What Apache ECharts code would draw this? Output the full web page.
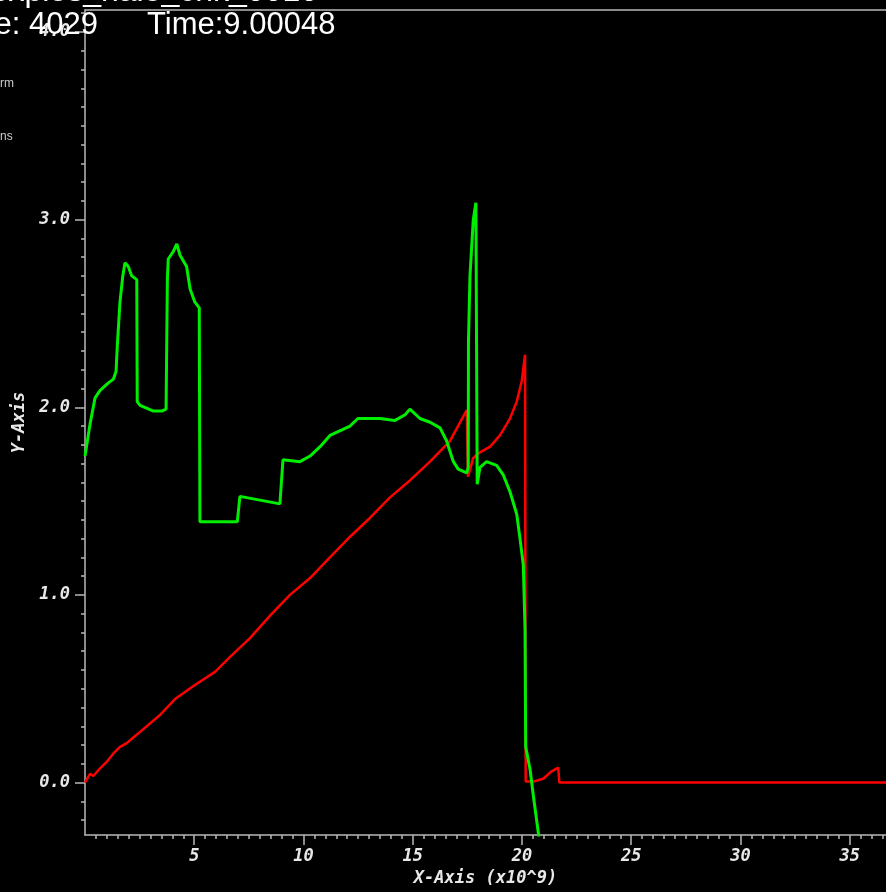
<!DOCTYPE html>
<html>
<head>
<meta charset="utf-8">
<script src="https://cdn.jsdelivr.net/npm/echarts@6/dist/echarts.min.js"></script>
<style>
html,body{margin:0;padding:0;background:#000;}
#chart{width:886px;height:892px;}
</style>
</head>
<body>
<div id="chart"></div>
<script>
// ---- data ----
const redX = [0, 0.23, 0.38, 0.69, 0.99, 1.30, 1.60, 1.91, 2.21, 2.52, 3.43, 4.12, 5.03, 5.95, 6.64, 7.55, 8.47, 9.38, 10.30, 11.21, 12.13, 13.04, 13.96, 14.87, 15.79, 16.70, 17.47, 17.53, 17.77, 18.08, 18.54, 18.99, 19.45, 19.76, 19.99, 20.14, 20.17, 20.52, 20.97, 21.36, 21.66, 21.71, 37.0];
const redY = [0, 0.046, 0.035, 0.076, 0.11, 0.155, 0.19, 0.21, 0.24, 0.27, 0.36, 0.445, 0.52, 0.59, 0.67, 0.77, 0.89, 1.0, 1.09, 1.20, 1.31, 1.41, 1.52, 1.61, 1.71, 1.82, 1.985, 1.63, 1.73, 1.76, 1.79, 1.85, 1.94, 2.03, 2.14, 2.28, 0.005, 0.005, 0.02, 0.06, 0.08, 0, 0];

const greenX = [0, 0.05, 0.23, 0.46, 0.69, 1.07, 1.30, 1.42, 1.48, 1.60, 1.73, 1.83, 1.98, 2.14, 2.37, 2.39, 2.52, 3.13, 3.51, 3.71, 3.77, 3.81, 4.04, 4.20, 4.35, 4.65, 4.81, 5.03, 5.23, 5.26, 6.97, 7.09, 8.01, 8.92, 9.06, 9.84, 10.30, 10.76, 11.21, 12.13, 12.49, 13.50, 14.19, 14.65, 14.87, 15.33, 15.79, 16.25, 16.55, 16.86, 17.08, 17.47, 17.54, 17.55, 17.62, 17.77, 17.89, 17.95, 18.08, 18.38, 18.84, 19.14, 19.45, 19.76, 19.91, 20.06, 20.14, 20.17, 20.37, 20.52, 20.75, 20.82];
const greenY = [1.74, 1.74, 1.91, 2.05, 2.09, 2.13, 2.15, 2.19, 2.33, 2.56, 2.70, 2.77, 2.75, 2.70, 2.68, 2.03, 2.01, 1.98, 1.98, 1.99, 2.68, 2.79, 2.83, 2.87, 2.81, 2.75, 2.63, 2.56, 2.53, 1.39, 1.39, 1.525, 1.505, 1.485, 1.72, 1.71, 1.74, 1.79, 1.85, 1.90, 1.94, 1.94, 1.93, 1.96, 1.99, 1.94, 1.92, 1.89, 1.82, 1.71, 1.67, 1.65, 1.68, 2.35, 2.70, 3.00, 3.09, 1.59, 1.68, 1.71, 1.69, 1.64, 1.55, 1.43, 1.30, 1.16, 0.81, 0.19, 0.07, -0.07, -0.27, -0.34];

// ---- ticks / labels ----
const xMajorTicks = [5, 10, 15, 20, 25, 30, 35];
const yMajorTicks = [0, 1, 2, 3, 4];
const xMinorTicks = [];
for (let i = 1; i <= 73; i++) xMinorTicks.push(i * 0.5);
const yMinorTicks = [];
for (let i = -2; i <= 41; i++) yMinorTicks.push(i / 10);

const X_MIN = 0, X_MAX = 36.66, Y_MIN = -0.28, Y_MAX = 4.117;

const zip = (xs, ys) => xs.map((x, i) => [x, ys[i]]);

const axisColor = '#b8b8b8';
const labelFont = { color: '#e8e8e8', fontFamily: 'DejaVu Sans Mono', fontStyle: 'italic', fontWeight: 'bold', fontSize: 17 };

const chart = echarts.init(document.getElementById('chart'), null, { renderer: 'canvas' });
chart.setOption({
  animation: false,
  backgroundColor: '#000',
  grid: { left: 85, top: 10, right: 0, bottom: 53, containLabel: false },
  xAxis: [
    {
      type: 'value', min: X_MIN, max: X_MAX, position: 'bottom',
      axisLine: { show: true, onZero: false, lineStyle: { color: axisColor, width: 1.5 } },
      axisTick: { show: true, customValues: xMajorTicks, length: 10, lineStyle: { color: axisColor, width: 1.5 } },
      axisLabel: Object.assign({ customValues: xMajorTicks, margin: 13, formatter: v => String(v) }, labelFont),
      splitLine: { show: false },
      name: 'X-Axis (x10^9)', nameLocation: 'middle', nameGap: 34,
      nameTextStyle: labelFont
    },
    {
      type: 'value', min: X_MIN, max: X_MAX, position: 'bottom',
      axisLine: { show: false, onZero: false },
      axisTick: { show: true, customValues: xMinorTicks, length: 4, lineStyle: { color: axisColor, width: 1.5 } },
      axisLabel: { show: false },
      splitLine: { show: false }
    },
    {
      type: 'value', min: X_MIN, max: X_MAX, position: 'top',
      axisLine: { show: true, onZero: false, lineStyle: { color: axisColor, width: 1.5 } },
      axisTick: { show: false }, axisLabel: { show: false }, splitLine: { show: false }
    }
  ],
  yAxis: [
    {
      type: 'value', min: Y_MIN, max: Y_MAX, position: 'left',
      axisLine: { show: true, onZero: false, lineStyle: { color: axisColor, width: 1.5 } },
      axisTick: { show: true, customValues: yMajorTicks, length: 10, lineStyle: { color: axisColor, width: 1.5 } },
      axisLabel: Object.assign({ customValues: yMajorTicks, margin: 15, formatter: v => v.toFixed(1) }, labelFont),
      splitLine: { show: false },
      name: 'Y-Axis', nameLocation: 'middle', nameGap: 55, nameRotate: 90,
      nameTextStyle: labelFont
    },
    {
      type: 'value', min: Y_MIN, max: Y_MAX, position: 'left',
      axisLine: { show: false, onZero: false },
      axisTick: { show: true, customValues: yMinorTicks, length: 4, lineStyle: { color: axisColor, width: 1.5 } },
      axisLabel: { show: false },
      splitLine: { show: false }
    }
  ],
  series: [
    {
      name: 'red', type: 'line', xAxisIndex: 0, yAxisIndex: 0,
      data: zip(redX, redY), showSymbol: false, symbol: 'none',
      lineStyle: { color: '#ff0000', width: 2.5 }, clip: true, z: 2
    },
    {
      name: 'green', type: 'line', xAxisIndex: 0, yAxisIndex: 0,
      data: zip(greenX, greenY), showSymbol: false, symbol: 'none',
      lineStyle: { color: '#00ee00', width: 3 }, clip: true, z: 3
    }
  ],
  graphic: [
    { type: 'text', x: 318, y: 8, style: { text: 'DB: explos_halo_chk_0010', fill: '#ffffff', font: '32px "Liberation Sans"', align: 'right', verticalAlign: 'bottom' }, z: 10 },
    { type: 'text', x: 98, y: 25, style: { text: 'Cycle: 4029', fill: '#ffffff', font: '31px "Liberation Sans"', align: 'right', verticalAlign: 'middle' }, z: 10 },
    { type: 'text', x: 147, y: 25, style: { text: 'Time:9.00048', fill: '#ffffff', font: '31px "Liberation Sans"', align: 'left', verticalAlign: 'middle' }, z: 10 },
    { type: 'text', x: 0, y: 84, style: { text: 'rm', fill: '#cccccc', font: '12px "Liberation Sans"', align: 'left', verticalAlign: 'middle' }, z: 10 },
    { type: 'text', x: 0, y: 137, style: { text: 'ns', fill: '#cccccc', font: '12px "Liberation Sans"', align: 'left', verticalAlign: 'middle' }, z: 10 }
  ]
});
</script>
</body>
</html>
